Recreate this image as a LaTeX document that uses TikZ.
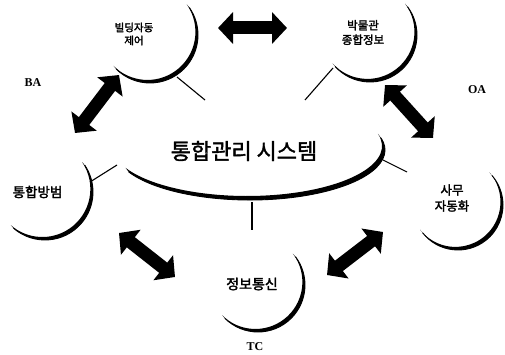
\documentclass[tikz,border=0pt]{standalone}
\usepackage{fontspec}
\usetikzlibrary{arrows.meta,calc}
\newfontfamily\krfont[FakeBold=2.2]{Noto Sans CJK KR}
\newfontfamily\krmain[FakeBold=1.6]{Noto Sans CJK KR}
\newfontfamily\tmsfont{Liberation Serif}
\newcommand\cresc[6]{%
  \pgfmathsetmacro\crmid{(#4+#5)/2+180}%
  \fill ($(#1,#2)+(#4:#3)$) arc[start angle=#4,end angle=#5,radius=#3]
     -- ($(#1,#2)+(\crmid:#6)+(#5:#3)$) arc[start angle=#5,end angle=#4,radius=#3] -- cycle;
  \draw[line width=0.9pt] ($(#1,#2)+(#4:#3)$) arc[start angle=#4,end angle=#5,radius=#3];}
\tikzset{
  dbl/.style={line width=13pt,{Triangle[width=31pt,length=15pt]}-{Triangle[width=31pt,length=15pt]}},
  conn/.style={line width=1.1pt},
  lbl/.style={font=\krfont, align=center, inner sep=0pt},
  abbr/.style={font=\tmsfont\bfseries\fontsize{12}{14}\selectfont, inner sep=0pt}
}
\begin{document}
\begin{tikzpicture}[x=1pt,y=1pt]
\useasboundingbox (0,0) rectangle (505,354);
\fill[white] (0,0) rectangle (505,354);
% crescents
\cresc{150}{319}{48}{225}{395}{4}
\cresc{370}{319}{47}{222}{397}{4}
\cresc{45}{162}{48}{229}{394}{4}
\cresc{458}{149}{45}{218}{401}{4}
\cresc{258}{69}{47}{225}{397}{4}
% main ellipse arc
\fill ($(250,204)+(206:135 and 50)$) arc[start angle=206,end angle=374,x radius=135,y radius=50]
   -- ($(247,208)+(374:135 and 50)$) arc[start angle=374,end angle=206,x radius=135,y radius=50] -- cycle;
\draw[line width=0.9pt] ($(250,204)+(206:135 and 50)$) arc[start angle=206,end angle=374,x radius=135,y radius=50];
% labels
\node[lbl,font=\krfont\fontsize{10.5}{13}\selectfont] (bas) at (134,320) {빌딩자동\\제어};
\node[lbl,font=\krfont\fontsize{11.5}{14.5}\selectfont] (mus) at (363,321.5) {박물관\\종합정보};
\node[lbl,font=\krmain\fontsize{22}{26}\selectfont] (ims) at (244,203) {통합관리 시스템};
\node[lbl,font=\krfont\fontsize{13.5}{16}\selectfont] (sec) at (37.5,162) {통합방범};
\node[lbl,font=\krfont\fontsize{12.5}{16}\selectfont] (oas) at (452,156) {사무\\자동화};
\node[lbl,font=\krfont\fontsize{14}{16}\selectfont] (tcs) at (252,70) {정보통신};
\node[abbr] (ba) at (33,271) {BA};
\node[abbr] (oa) at (477,264) {OA};
\node[abbr] (tc) at (255,7) {TC};
% connector coordinates
\coordinate (c1a) at (177,277); \coordinate (c1b) at (205,254);
\coordinate (c2a) at (333,286); \coordinate (c2b) at (305,254);
\coordinate (c3a) at (90,172);  \coordinate (c3b) at (117,189);
\coordinate (c4a) at (383,194); \coordinate (c4b) at (407,182);
\coordinate (c5a) at (252,152); \coordinate (c5b) at (252,124);
\draw[conn] (c1a) -- (c1b);
\draw[conn] (c2a) -- (c2b);
\draw[conn] (c3a) -- (c3b);
\draw[conn] (c4a) -- (c4b);
\draw[conn] (c5a) -- (c5b);
% arrows
\coordinate (a1a) at (218,326); \coordinate (a1b) at (287,326);
\coordinate (a2a) at (75,221);  \coordinate (a2b) at (119,279);
\coordinate (a3a) at (385,269); \coordinate (a3b) at (433,216);
\coordinate (a4a) at (119,121); \coordinate (a4b) at (175,77);
\coordinate (a5a) at (327,79);  \coordinate (a5b) at (383,122);
\draw[dbl] (a1a) -- (a1b);
\draw[dbl] (a2a) -- (a2b);
\draw[dbl] (a3a) -- (a3b);
\draw[dbl] (a4a) -- (a4b);
\draw[dbl] (a5a) -- (a5b);
\end{tikzpicture}
\end{document}
